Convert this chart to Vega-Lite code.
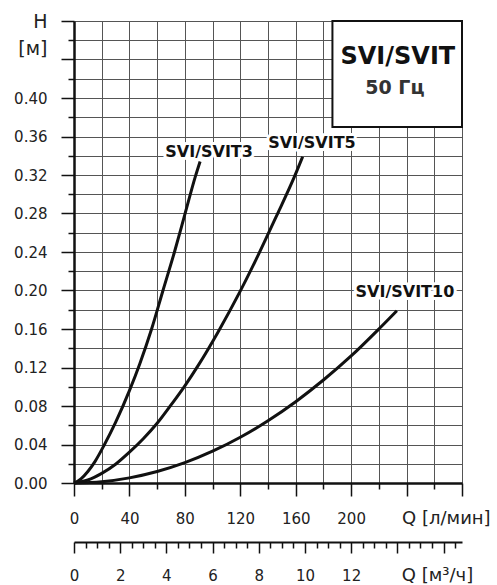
{
  "$schema": "https://vega.github.io/schema/vega-lite/v6.json",
  "width": 388,
  "height": 462,
  "autosize": {"type": "none"},
  "padding": {"left": 74, "top": 21, "right": 35, "bottom": 102},
  "background": "white",
  "config": {
    "view": {"stroke": null},
    "font": "DejaVu Sans",
    "axis": {
      "labelFont": "DejaVu Sans",
      "labelFontSize": 15,
      "labelColor": "#222",
      "domainColor": "#111",
      "tickColor": "#111",
      "title": null
    }
  },
  "datasets": {
    "curves": [
      {"model": "SVIT3", "Q": 0, "H": 0},
      {"model": "SVIT3", "Q": 5, "H": 0.0043},
      {"model": "SVIT3", "Q": 10, "H": 0.012},
      {"model": "SVIT3", "Q": 15, "H": 0.022},
      {"model": "SVIT3", "Q": 22, "H": 0.04},
      {"model": "SVIT3", "Q": 30, "H": 0.063},
      {"model": "SVIT3", "Q": 40, "H": 0.096},
      {"model": "SVIT3", "Q": 47.5, "H": 0.124},
      {"model": "SVIT3", "Q": 56, "H": 0.16},
      {"model": "SVIT3", "Q": 64, "H": 0.199},
      {"model": "SVIT3", "Q": 72.5, "H": 0.24},
      {"model": "SVIT3", "Q": 80, "H": 0.279},
      {"model": "SVIT3", "Q": 87.5, "H": 0.318},
      {"model": "SVIT3", "Q": 91, "H": 0.334},
      {"model": "SVIT5", "Q": 0, "H": 0},
      {"model": "SVIT5", "Q": 10, "H": 0.0031},
      {"model": "SVIT5", "Q": 20, "H": 0.01},
      {"model": "SVIT5", "Q": 30, "H": 0.0195},
      {"model": "SVIT5", "Q": 40, "H": 0.032},
      {"model": "SVIT5", "Q": 50, "H": 0.046},
      {"model": "SVIT5", "Q": 60, "H": 0.062},
      {"model": "SVIT5", "Q": 71, "H": 0.083},
      {"model": "SVIT5", "Q": 80, "H": 0.101},
      {"model": "SVIT5", "Q": 90, "H": 0.123},
      {"model": "SVIT5", "Q": 104, "H": 0.157},
      {"model": "SVIT5", "Q": 119.5, "H": 0.198},
      {"model": "SVIT5", "Q": 133, "H": 0.237},
      {"model": "SVIT5", "Q": 146, "H": 0.277},
      {"model": "SVIT5", "Q": 159, "H": 0.318},
      {"model": "SVIT5", "Q": 165, "H": 0.339},
      {"model": "SVIT10", "Q": 0, "H": 0},
      {"model": "SVIT10", "Q": 20, "H": 0.0013},
      {"model": "SVIT10", "Q": 40, "H": 0.0053},
      {"model": "SVIT10", "Q": 60, "H": 0.0119},
      {"model": "SVIT10", "Q": 80, "H": 0.0211},
      {"model": "SVIT10", "Q": 100, "H": 0.033},
      {"model": "SVIT10", "Q": 120, "H": 0.0475},
      {"model": "SVIT10", "Q": 140, "H": 0.0647},
      {"model": "SVIT10", "Q": 160, "H": 0.0845},
      {"model": "SVIT10", "Q": 180, "H": 0.107},
      {"model": "SVIT10", "Q": 200, "H": 0.132},
      {"model": "SVIT10", "Q": 220, "H": 0.16},
      {"model": "SVIT10", "Q": 233, "H": 0.179}
    ],
    "labels": [
      {"label": "SVI/SVIT3", "Q": 97.5, "H": 0.344},
      {"label": "SVI/SVIT5", "Q": 171.7, "H": 0.3536},
      {"label": "SVI/SVIT10", "Q": 238.8, "H": 0.1988}
    ],
    "box": [{"x1": 186.5, "x2": 280, "y1": 0.37, "y2": 0.48}],
    "boxTitle": [{"t": "SVI/SVIT", "Q": 233.7, "H": 0.4423}],
    "boxSub": [{"t": "50 Гц", "Q": 231.6, "H": 0.4107}]
  },
  "layer": [
    {
      "data": {"name": "curves"},
      "mark": {"type": "line", "interpolate": "monotone", "color": "#111", "strokeWidth": 3},
      "encoding": {
        "x": {
          "field": "Q", "type": "quantitative",
          "scale": {"domain": [0, 280], "nice": false, "zero": false},
          "axis": {
            "orient": "bottom",
            "values": [0, 20, 40, 60, 80, 100, 120, 140, 160, 180, 200, 220, 240, 260, 280],
            "domainWidth": 2.5,
            "tickWidth": 1.5,
            "tickSize": {"condition": {"test": "round(datum.value/20) % 2 == 1", "value": 6}, "value": 13},
            "grid": true,
            "gridColor": "#555",
            "gridWidth": 1,
            "labelExpr": "datum.value == 240 ? 'Q [л/мин]' : (datum.value < 240 && round(datum.value/20) % 2 == 0 ? format(datum.value, 'd') : '')",
            "labelAlign": {"condition": {"test": "datum.value == 240", "value": "left"}, "value": "center"},
            "labelOffset": {"condition": {"test": "datum.value == 240", "value": -5}, "value": 0},
            "labelFontSize": {"condition": {"test": "datum.value == 240", "value": 18}, "value": 15},
            "labelBaseline": "alphabetic",
            "labelPadding": 27,
            "labelFlush": false,
            "labelOverlap": false,
            "labelBound": false
          }
        },
        "y": {
          "field": "H", "type": "quantitative",
          "scale": {"domain": [0, 0.48], "nice": false},
          "axis": {
            "orient": "left",
            "values": [0, 0.02, 0.04, 0.06, 0.08, 0.1, 0.12, 0.14, 0.16, 0.18, 0.2, 0.22, 0.24, 0.26, 0.28, 0.3, 0.32, 0.34, 0.36, 0.38, 0.4, 0.42, 0.44, 0.46, 0.48],
            "domainWidth": 2.5,
            "tickWidth": 1.5,
            "tickSize": {"condition": {"test": "round(datum.value*50) % 2 == 1", "value": 6}, "value": 13},
            "grid": true,
            "gridColor": "#555",
            "gridWidth": 1,
            "labelExpr": "datum.value > 0.47 ? 'H   ' : abs(datum.value - 0.44) < 0.001 ? '[м] ' : (round(datum.value*50) % 2 == 0 ? format(datum.value, '.2f') : '')",
            "labelOffset": {"condition": {"test": "abs(datum.value - 0.44) < 0.001", "value": -11}, "value": 0},
            "labelFontSize": {"condition": {"test": "datum.value > 0.43", "value": 19}, "value": 15},
            "labelPadding": 14,
            "labelFlush": false,
            "labelOverlap": false,
            "labelBound": false
          }
        },
        "detail": {"field": "model"}
      }
    },
    {
      "data": {"name": "box"},
      "mark": {"type": "rect", "fill": "white", "stroke": "#111", "strokeWidth": 2},
      "encoding": {
        "x": {
          "field": "x1", "type": "quantitative",
          "scale": {"domain": [0, 280], "nice": false, "zero": false},
          "axis": {
            "orient": "bottom",
            "offset": 59,
            "values": [0, 8.33333, 16.66667, 25, 33.33333, 41.66667, 50, 58.33333, 66.66667, 75, 83.33333, 91.66667, 100, 108.33333, 116.66667, 125, 133.33333, 141.66667, 150, 158.33333, 166.66667, 175, 183.33333, 191.66667, 200, 208.33333, 216.66667, 225, 233.33333, 241.66667, 250, 258.33333, 266.66667, 275],
            "domainWidth": 2,
            "tickWidth": 1.5,
            "tickSize": {"condition": {"test": "round(datum.value*0.12) % 4 != 0", "value": 6}, "value": 11},
            "grid": false,
            "labelExpr": "abs(datum.value*0.06 - 14) < 0.01 ? 'Q [м³/ч]' : (round(datum.value*0.12) % 4 == 0 && datum.value < 210 ? format(round(datum.value*0.06), 'd') : '')",
            "labelAlign": {"condition": {"test": "abs(datum.value*0.06 - 14) < 0.01", "value": "left"}, "value": "center"},
            "labelOffset": {"condition": {"test": "abs(datum.value*0.06 - 14) < 0.01", "value": 4}, "value": 0},
            "labelFontSize": {"condition": {"test": "abs(datum.value*0.06 - 14) < 0.01", "value": 18}, "value": 15},
            "labelBaseline": "alphabetic",
            "labelPadding": 27,
            "labelFlush": false,
            "labelOverlap": false,
            "labelBound": false
          }
        },
        "x2": {"field": "x2"},
        "y": {"field": "y1", "type": "quantitative", "scale": {"domain": [0, 0.48], "nice": false}, "axis": null},
        "y2": {"field": "y2"}
      }
    },
    {
      "data": {"name": "labels"},
      "mark": {"type": "text", "font": "DejaVu Sans", "fontWeight": "bold", "fontSize": 16, "align": "center", "baseline": "middle", "stroke": "white", "strokeWidth": 6, "strokeJoin": "round", "fill": "white"},
      "encoding": {
        "x": {"field": "Q", "type": "quantitative", "scale": {"domain": [0, 280], "nice": false, "zero": false}, "axis": null},
        "y": {"field": "H", "type": "quantitative", "scale": {"domain": [0, 0.48], "nice": false}, "axis": null},
        "text": {"field": "label"}
      }
    },
    {
      "data": {"name": "labels"},
      "mark": {"type": "text", "font": "DejaVu Sans", "fontWeight": "bold", "fontSize": 16, "align": "center", "baseline": "middle", "fill": "#111"},
      "encoding": {
        "x": {"field": "Q", "type": "quantitative", "scale": {"domain": [0, 280], "nice": false, "zero": false}, "axis": null},
        "y": {"field": "H", "type": "quantitative", "scale": {"domain": [0, 0.48], "nice": false}, "axis": null},
        "text": {"field": "label"}
      }
    },
    {
      "data": {"name": "boxTitle"},
      "mark": {"type": "text", "font": "DejaVu Sans", "fontWeight": "bold", "fontSize": 24, "align": "center", "baseline": "middle", "fill": "#111"},
      "encoding": {
        "x": {"field": "Q", "type": "quantitative", "scale": {"domain": [0, 280], "nice": false, "zero": false}, "axis": null},
        "y": {"field": "H", "type": "quantitative", "scale": {"domain": [0, 0.48], "nice": false}, "axis": null},
        "text": {"field": "t"}
      }
    },
    {
      "data": {"name": "boxSub"},
      "mark": {"type": "text", "font": "DejaVu Sans", "fontWeight": "bold", "fontSize": 19, "align": "center", "baseline": "middle", "fill": "#333"},
      "encoding": {
        "x": {"field": "Q", "type": "quantitative", "scale": {"domain": [0, 280], "nice": false, "zero": false}, "axis": null},
        "y": {"field": "H", "type": "quantitative", "scale": {"domain": [0, 0.48], "nice": false}, "axis": null},
        "text": {"field": "t"}
      }
    }
  ],
  "resolve": {"axis": {"x": "independent", "y": "independent"}}
}
